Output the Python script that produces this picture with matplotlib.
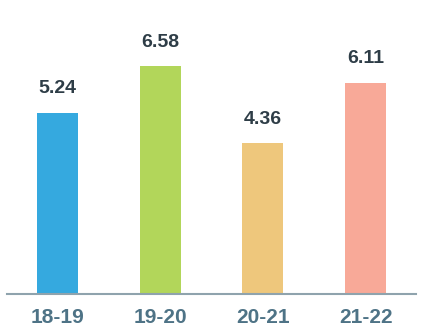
import matplotlib
matplotlib.use("Agg")
import matplotlib.pyplot as plt

categories = ["18-19", "19-20", "20-21", "21-22"]
values = [5.24, 6.58, 4.36, 6.11]
colors = ["#35A9DF", "#B2D65A", "#EEC77C", "#F8A998"]

plt.rcParams['font.family'] = ['Liberation Sans', 'DejaVu Sans']

fig = plt.figure(figsize=(4.24, 3.30), dpi=100)
ax = fig.add_axes([7/424, (330-294)/330, (416-7)/424, 294/330])
x = list(range(len(categories)))
ax.bar(x, values, width=0.4, color=colors, zorder=2)
for xi, v in zip(x, values):
    ax.annotate(f"{v:.2f}", (xi, v), xytext=(0, 11), textcoords="offset points",
                ha="center", va="bottom", fontsize=14, fontweight="bold",
                color="#2E3D47", annotation_clip=False)
ax.set_xlim(-0.49, 3.49)
ax.set_ylim(0, 294/34.6)
ax.set_xticks(x)
ax.set_xticklabels(categories, fontsize=15, fontweight="bold", color="#4E7386")
ax.tick_params(axis="x", length=0, pad=10)
ax.set_yticks([])
for s in ["top", "right", "left"]:
    ax.spines[s].set_visible(False)
ax.spines["bottom"].set_color("#8FA3AD")
ax.spines["bottom"].set_linewidth(1.5)
fig.savefig("out.png", dpi=100)
